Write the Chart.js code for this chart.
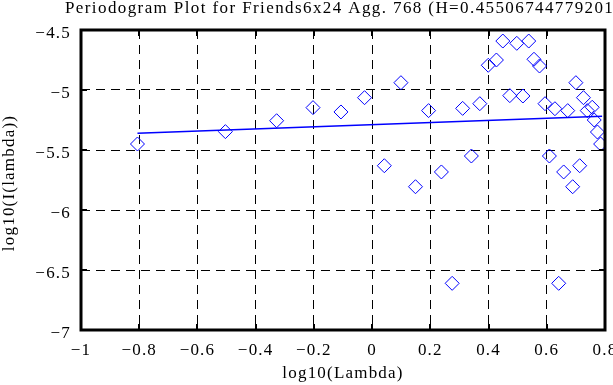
<!DOCTYPE html>
<html>
<head>
<meta charset="utf-8">
<script src="https://cdn.jsdelivr.net/npm/chart.js@4.4.1/dist/chart.umd.min.js"></script>
<style>
  html, body { margin: 0; padding: 0; background: #fff; }
  #wrap { width: 613px; height: 385px; position: relative; }
</style>
</head>
<body>
<div id="wrap"><canvas id="grafico"></canvas></div>
<script>
// periodogram points: log10(lambda) vs log10(I(lambda))
const logLambda = [
  -0.806, -0.504, -0.328, -0.203, -0.107, -0.026, 0.099, 0.042, 0.149, 0.194,
  0.238, 0.311, 0.370, 0.341, 0.399, 0.427, 0.449, 0.497, 0.538, 0.556,
  0.575, 0.473, 0.518, 0.594, 0.628, 0.672, 0.609, 0.658, 0.689, 0.713,
  0.700, 0.726, 0.756, 0.739, 0.763, 0.774, 0.785, 0.275, 0.641
];
const logI = [
  -5.45, -5.347, -5.256, -5.147, -5.183, -5.064, -4.939, -5.631, -5.806, -5.172,
  -5.683, -5.153, -5.114, -5.55, -4.794, -4.75, -4.592, -4.611, -4.592, -4.744,
  -4.8, -5.047, -5.05, -5.114, -5.156, -5.172, -5.55, -5.683, -5.806, -5.631,
  -4.939, -5.064, -5.144, -5.172, -5.25, -5.35, -5.45, -6.611, -6.611
];
// least squares fit line ends
const fitX = [-0.806, 0.79];
const fitY = [-5.361, -5.219];

const xTicks = [-1, -0.8, -0.6, -0.4, -0.2, 0, 0.2, 0.4, 0.6, 0.8];
const yTicks = [-7, -6.5, -6, -5.5, -5, -4.5];

const titulo = 'Periodogram Plot for Friends6x24 Agg. 768 (H=0.455067447792016)';
const fonte = '"Liberation Serif", "Times New Roman", serif';
const espaco = '1.2px';

const fmt = v => String(Math.round(v * 10) / 10).replace('-', '\u2212');

// wider letters, like the bitmap font of the original
const espacamento = {
  id: 'espacamento',
  beforeLayout(chart) { chart.ctx.letterSpacing = espaco; },
  beforeDraw(chart) { chart.ctx.letterSpacing = espaco; }
};

// titles + inward tick marks
const extras = {
  id: 'extras',
  afterDraw(chart) {
    const ctx = chart.ctx;
    const a = chart.chartArea;
    const sx = chart.scales.x, sy = chart.scales.y;
    ctx.save();
    ctx.strokeStyle = '#000';
    ctx.lineWidth = 2;
    ctx.beginPath();
    xTicks.forEach(t => {
      const px = Math.round(sx.getPixelForValue(t));
      ctx.moveTo(px, a.bottom); ctx.lineTo(px, a.bottom - 6);
      ctx.moveTo(px, a.top); ctx.lineTo(px, a.top + 6);
    });
    yTicks.forEach(t => {
      const py = Math.round(sy.getPixelForValue(t));
      ctx.moveTo(a.left, py); ctx.lineTo(a.left + 6, py);
      ctx.moveTo(a.right, py); ctx.lineTo(a.right - 6, py);
    });
    ctx.stroke();
    ctx.lineWidth = 3;
    ctx.strokeRect(a.left, a.top, a.right - a.left, a.bottom - a.top);

    ctx.fillStyle = '#000';
    ctx.font = '17px ' + fonte;
    ctx.textBaseline = 'middle';
    ctx.textAlign = 'left';
    ctx.letterSpacing = '1.4px';
    ctx.fillText(titulo, 65, 9);
    ctx.letterSpacing = espaco;
    ctx.textAlign = 'center';
    ctx.fillText('log10(Lambda)', (a.left + a.right) / 2, 374);
    ctx.translate(10, 183);
    ctx.rotate(-Math.PI / 2);
    ctx.fillText('log10(I(lambda))', 0, 0);
    ctx.restore();
  }
};

const config = {
  type: 'scatter',
  data: {
    datasets: [{
      label: 'periodogram',
      data: logLambda.map((x, i) => ({ x: x, y: logI[i] })),
      pointStyle: 'rectRot',
      pointRadius: 7,
      pointBorderWidth: 1,
      borderColor: '#0000ff',
      backgroundColor: 'rgba(0,0,0,0)',
      showLine: false
    }, {
      label: 'fit',
      data: fitX.map((x, i) => ({ x: x, y: fitY[i] })),
      showLine: true,
      borderColor: '#0000ff',
      borderWidth: 1.5,
      pointRadius: 0
    }]
  },
  options: {
    responsive: true,
    maintainAspectRatio: false,
    animation: false,
    layout: { padding: { top: 30, right: 5, bottom: 0, left: 0 } },
    plugins: { legend: { display: false }, tooltip: { enabled: false }, title: { display: false } },
    scales: {
      x: {
        type: 'linear',
        min: -1, max: 0.8,
        afterBuildTicks: s => { s.ticks = xTicks.map(v => ({ value: v })); },
        afterFit: s => { s.height = 55; s.paddingLeft = 0; s.paddingRight = 0; },
        grid: { color: '#000', lineWidth: 1, drawTicks: false },
        border: { display: false, dash: [9, 6] },
        ticks: {
          color: '#000', padding: 10, maxRotation: 0, autoSkip: false,
          font: { family: fonte, size: 17 },
          callback: v => fmt(v)
        }
      },
      y: {
        type: 'linear',
        min: -7, max: -4.5,
        afterBuildTicks: s => { s.ticks = yTicks.map(v => ({ value: v })); },
        afterFit: s => { s.width = 81; s.paddingTop = 0; s.paddingBottom = 0; },
        grid: { color: '#000', lineWidth: 1, drawTicks: false },
        border: { display: false, dash: [9, 6] },
        ticks: {
          color: '#000', padding: 10, autoSkip: false, labelOffset: 4,
          font: { family: fonte, size: 17 },
          callback: v => fmt(v)
        }
      }
    }
  },
  plugins: [espacamento, extras]
};

const grafico = new Chart(document.getElementById('grafico'), config);
</script>
</body>
</html>
